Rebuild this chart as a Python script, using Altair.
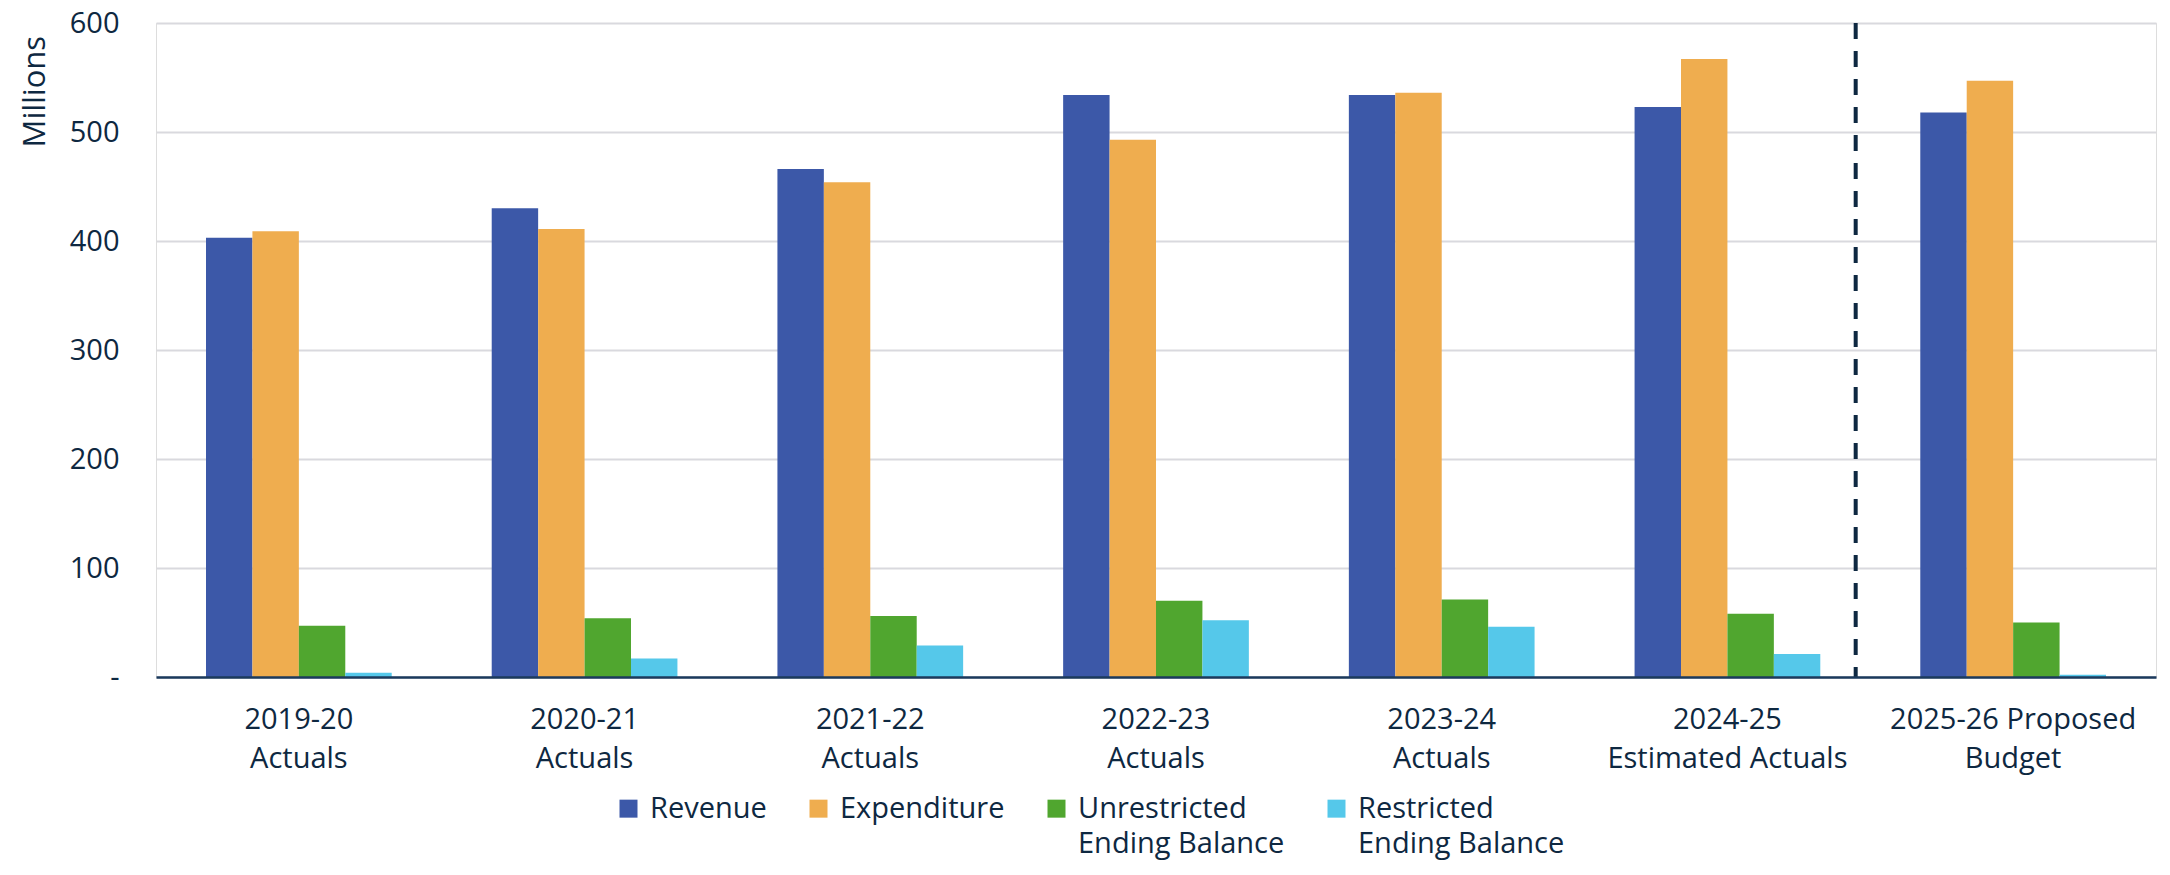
import altair as alt
import pandas as pd

# ---- data ----
cat_line1 = ["2019-20", "2020-21", "2021-22", "2022-23", "2023-24", "2024-25", "2025-26 Proposed"]
cat_line2 = ["Actuals", "Actuals", "Actuals", "Actuals", "Actuals", "Estimated Actuals", "Budget"]
series = ["Revenue", "Expenditure", "Unrestricted Ending Balance", "Restricted Ending Balance"]
revenue = [403, 430, 466, 534, 534, 523, 518]
expenditure = [409, 411, 454, 493, 536, 567, 547]
unrestricted = [47, 54, 56, 70, 71, 58, 50]
restricted = [4, 17, 29, 52, 46, 21, 2]
y_ticks = [0, 100, 200, 300, 400, 500, 600]
colors = ["#3C58A8", "#EFAD4F", "#50A62F", "#55C8EA"]

TEXT = "#0E2841"
FONT = "Open Sans"

categories = [f"{a}|{b}" for a, b in zip(cat_line1, cat_line2)]
rows = []
for s, vals in zip(series, [revenue, expenditure, unrestricted, restricted]):
    for c, v in zip(categories, vals):
        rows.append({"category": c, "series": s, "value": v})
df = pd.DataFrame(rows)

# divider between estimated actuals and the proposed budget
div_df = pd.DataFrame({"category": [categories[5]], "top": [600], "bottom": [0]})

x_scale = alt.Scale(paddingInner=0.35, paddingOuter=0.175)
y_scale = alt.Scale(domain=[0, 600], nice=False)

legend_label_expr = (
    "indexof(datum.label, ' Ending') > 0 ? "
    "split(replace(datum.label, ' Ending', '|Ending'), '|') : [datum.label, ' ']"
)

bars = alt.Chart(df).mark_bar().encode(
    x=alt.X(
        "category:N",
        sort=categories,
        scale=x_scale,
        axis=alt.Axis(
            title=None,
            labelExpr="split(datum.label, '|')",
            labelAngle=0,
            labelFontSize=29,
            labelColor=TEXT,
            labelFont=FONT,
            labelPadding=28,
            labelLineHeight=39,
            labelLimit=500,
            ticks=False,
            grid=False,
            domainColor="#1B3A5C",
            domainWidth=2.5,
            zindex=1,
        ),
    ),
    xOffset=alt.XOffset("series:N", sort=series, scale=alt.Scale(paddingInner=0, paddingOuter=0)),
    y=alt.Y(
        "value:Q",
        scale=y_scale,
        axis=alt.Axis(
            title="Millions",
            values=y_ticks,
            labelExpr="datum.value == 0 ? '-' : datum.label",
            labelFontSize=29,
            labelColor=TEXT,
            labelFont=FONT,
            labelPadding=37,
            ticks=False,
            tickSize=0,
            domain=False,
            grid=True,
            gridColor="#D9D9DE",
            gridWidth=2,
            titleFontSize=31,
            titleFont=FONT,
            titleFontWeight="normal",
            titleColor=TEXT,
            titleAngle=270,
            titleAlign="left",
            titleBaseline="alphabetic",
            titleX=-112,
            titleY=124,
        ),
    ),
    color=alt.Color(
        "series:N",
        sort=series,
        scale=alt.Scale(domain=series, range=colors),
        legend=alt.Legend(
            title=None,
            orient="none",
            legendX=458,
            legendY=757,
            direction="horizontal",
            columns=4,
            labelFontSize=29,
            labelFont=FONT,
            labelColor=TEXT,
            labelBaseline="top",
            labelExpr=legend_label_expr,
            labelLimit=600,
            labelOffset=7,
            columnPadding=37,
            symbolType="M-1,0.545H1V2.545H-1Z",
            symbolSize=324,
            symbolStrokeWidth=0,
            symbolOpacity=1,
            padding=0,
        ),
    ),
)

rule = alt.Chart(div_df).mark_rule(
    color=TEXT, strokeWidth=4, strokeDash=[16, 12], xOffset=35.4
).encode(
    x=alt.X("category:N", sort=categories, bandPosition=1, scale=x_scale),
    y=alt.Y("top:Q", scale=y_scale),
    y2="bottom:Q",
)

chart = (
    alt.layer(bars, rule)
    .properties(
        width=2000,
        height=654,
        autosize=alt.AutoSizeParams(type="none"),
        padding={"left": 148, "top": 15, "right": 6, "bottom": 190},
    )
    .configure_view(stroke=None)
    .configure(font=FONT, style={"guide-label": {"lineHeight": 35}})
)

chart.save("out.html", embed_options={"renderer": "svg", "actions": False})
